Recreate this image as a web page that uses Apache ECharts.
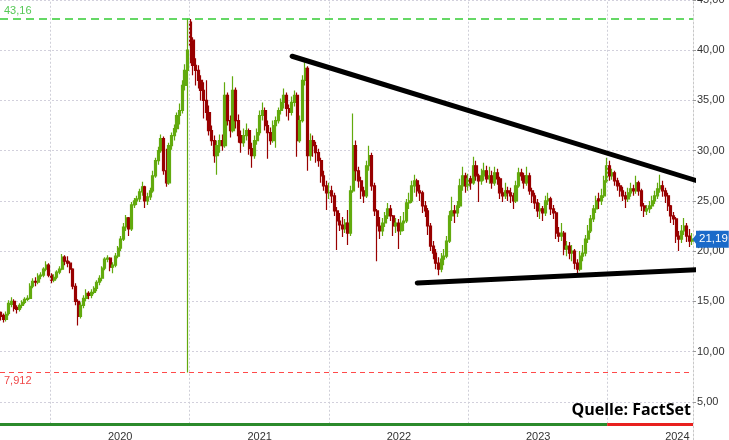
<!DOCTYPE html>
<html><head><meta charset="utf-8">
<script src="https://cdn.jsdelivr.net/npm/echarts@6/dist/echarts.min.js"></script>
<style>html,body{margin:0;padding:0;background:#fff}#c{width:729px;height:440px}</style>
</head><body><div id="c"></div>
<script>
// weekly bars, first bar date and step
const firstBar = [2019, 1, 15];
const open = [
13.5,13.9,13.6,13.2,13.8,14.7,15.0,14.4,14.2,14.6,
14.9,15.2,15.3,16.5,17.0,16.9,17.5,17.6,18.2,18.6,
17.6,17.1,17.4,17.9,18.2,19.4,19.0,18.8,18.2,16.5,
15.0,13.5,14.6,15.3,15.8,15.6,15.9,16.3,16.9,17.3,
18.3,19.2,19.3,18.4,18.6,19.5,20.3,21.2,22.4,23.3,
22.2,24.6,25.0,25.2,25.9,26.4,25.0,25.4,26.0,27.5,
29.0,30.0,31.2,28.0,26.8,30.5,31.5,32.2,33.5,34.0,
36.5,38.0,42.8,41.0,38.5,38.0,37.0,36.0,35.0,33.8,
32.0,31.0,29.5,30.5,31.0,30.5,35.5,33.0,32.0,36.0,
33.0,31.5,30.8,31.5,32.0,30.2,29.5,31.0,31.8,33.5,
34.0,32.5,31.8,31.0,32.5,33.0,34.0,34.8,35.5,34.2,
33.8,34.8,35.5,31.0,33.0,37.0,38.2,29.5,31.0,30.5,
29.8,29.0,27.5,26.5,25.8,26.0,25.5,24.0,23.0,22.6,
22.2,22.8,21.8,26.0,30.5,28.0,27.0,26.0,25.5,28.5,
29.5,26.5,24.0,22.5,22.0,22.8,23.5,24.2,23.5,22.5,
22.8,22.0,22.8,23.0,24.8,25.0,26.5,27.0,26.0,25.8,
24.5,24.0,22.5,20.5,19.8,18.8,18.2,19.2,19.5,21.0,
23.5,24.0,23.8,24.5,26.5,27.5,26.5,27.2,26.8,28.5,
27.5,27.0,27.5,28.0,27.2,27.5,26.8,27.8,27.2,25.8,
25.5,26.0,25.8,25.5,25.0,26.5,27.8,27.5,26.8,27.5,
26.0,25.5,24.8,24.0,24.2,23.8,25.0,25.2,24.2,23.8,
21.8,21.5,21.8,20.2,20.5,19.8,20.0,18.8,18.2,19.5,
19.8,21.2,22.0,23.2,24.2,25.2,25.0,25.5,27.0,28.5,
27.5,27.8,27.0,26.5,26.0,25.5,25.2,25.8,26.2,26.0,
26.8,26.0,24.5,24.0,24.2,24.5,25.0,25.5,26.2,26.5,
26.0,25.5,24.5,23.5,23.2,21.5,21.2,22.0,22.5,21.5,
21.0];
const close = [
13.8,13.5,13.2,13.7,14.8,15.0,14.3,14.2,14.6,14.9,
15.2,15.3,16.5,17.0,16.9,17.5,17.6,18.2,18.6,17.6,
17.1,17.4,17.9,18.2,19.4,19.0,18.8,18.2,16.5,15.0,
13.5,14.6,15.3,15.8,15.6,15.9,16.3,16.9,17.3,18.3,
19.2,19.3,18.4,18.6,19.5,20.3,21.2,22.4,23.3,22.2,
24.6,25.0,25.2,25.9,26.4,25.0,25.4,26.0,27.5,29.0,
30.0,31.2,28.0,26.8,30.5,31.5,32.2,33.5,34.0,36.5,
38.0,40.0,40.5,38.5,38.0,37.0,36.0,35.0,33.8,32.0,
31.0,29.5,30.5,31.0,30.5,35.5,33.0,32.0,36.0,33.0,
31.5,30.8,31.5,32.0,30.2,29.5,31.0,31.8,33.5,34.0,
32.5,31.8,31.0,32.5,33.0,34.0,34.8,35.5,34.2,33.8,
34.8,35.5,31.0,33.0,37.0,38.2,29.5,31.0,30.5,29.8,
29.0,27.5,26.5,25.8,26.0,25.5,24.0,23.0,22.6,22.2,
22.8,21.8,26.0,30.5,28.0,27.0,26.0,25.5,28.5,29.5,
26.5,24.0,22.5,22.0,22.8,23.5,24.2,23.5,22.5,22.8,
22.0,22.8,23.0,24.8,25.0,26.5,27.0,26.0,25.8,24.5,
24.0,22.5,20.5,19.8,18.8,18.2,19.2,19.5,21.0,23.5,
24.0,23.8,24.5,26.5,27.5,26.5,27.2,26.8,28.5,27.5,
27.0,27.5,28.0,27.2,27.5,26.8,27.8,27.2,25.8,25.5,
26.0,25.8,25.5,25.0,26.5,27.8,27.5,26.8,27.5,26.0,
25.5,24.8,24.0,24.2,23.8,25.0,25.2,24.2,23.8,21.8,
21.5,21.8,20.2,20.5,19.8,20.0,18.8,18.2,19.5,19.8,
21.2,22.0,23.2,24.2,25.0,25.0,25.5,27.0,28.5,27.5,
27.8,27.0,26.5,26.0,25.5,25.2,25.8,26.2,26.0,26.8,
26.0,24.5,24.0,24.2,24.5,25.0,25.5,26.2,26.5,26.0,
25.5,24.5,23.5,23.2,21.5,21.2,22.0,22.5,21.5,21.0,
21.19];
const low = [
13.2,13.1,12.9,13.0,13.6,14.4,14.0,13.8,14.0,14.3,
14.7,15.0,15.2,16.3,16.5,16.7,17.2,17.4,18.0,17.4,
16.8,16.9,17.2,17.7,18.1,18.6,18.4,17.8,16.2,14.6,
12.6,13.3,14.3,15.0,15.2,15.3,15.7,16.0,16.6,17.0,
18.1,18.9,18.0,17.8,18.4,19.3,20.0,21.0,22.0,21.5,
22.0,24.3,24.6,24.9,25.5,24.3,24.6,25.1,25.8,27.3,
28.6,29.8,27.6,26.4,26.6,30.1,31.0,31.8,32.6,33.7,
36.0,7.912,38.7,37.5,36.5,36.2,35.0,33.2,33.0,31.5,
30.5,28.8,27.6,29.8,30.0,30.3,32.5,31.3,31.8,32.2,
30.8,29.8,30.4,31.0,29.6,28.3,29.2,30.6,31.5,33.0,
32.0,29.2,30.6,30.8,30.3,32.7,33.6,34.2,33.4,33.0,
33.5,34.4,29.4,30.8,32.8,36.5,28.0,29.0,29.4,28.8,
28.4,26.8,26.0,24.1,25.2,24.8,23.5,20.1,22.0,21.4,
21.8,20.6,21.5,25.8,27.0,26.3,25.2,24.8,25.3,28.0,
26.0,23.5,19.0,21.2,21.5,22.4,23.2,23.0,21.5,21.8,
20.2,21.6,22.0,22.8,24.2,24.8,25.8,25.4,25.0,23.8,
23.4,21.6,20.0,19.2,18.2,17.6,17.9,18.6,19.3,20.8,
23.0,22.8,23.4,24.3,26.0,25.8,26.0,26.1,26.6,27.0,
24.9,26.6,27.0,26.8,26.7,26.2,26.5,26.6,25.2,24.9,
25.2,25.0,24.8,24.2,24.8,26.3,27.0,26.2,26.5,25.6,
24.8,24.2,23.4,23.2,23.0,23.5,24.6,23.6,23.2,21.2,
20.9,21.0,19.6,19.5,19.2,19.0,18.2,17.8,18.0,19.0,
19.5,20.8,21.8,22.9,23.8,24.2,24.6,25.3,26.8,27.0,
27.1,26.5,26.0,25.4,25.0,24.3,24.9,25.4,25.5,25.7,
25.5,24.0,23.4,23.6,23.8,24.2,24.7,25.2,25.8,25.4,
24.8,24.0,22.8,22.6,20.8,20.0,20.8,21.6,20.9,20.4,
20.6];
const high = [
14.2,14.0,13.8,14.0,15.1,15.4,15.2,14.6,14.8,15.1,
15.4,15.6,16.8,17.3,17.4,17.8,17.9,18.4,19.0,18.8,
17.8,17.7,18.1,18.5,19.7,19.6,19.5,19.0,18.3,16.8,
15.2,14.9,15.6,16.2,16.0,16.2,16.5,17.1,17.6,18.5,
19.4,19.6,19.4,18.9,19.8,20.5,21.5,22.8,23.6,23.4,
24.9,25.3,25.5,26.2,26.9,26.5,25.8,26.3,28.0,29.3,
30.4,31.6,31.4,30.2,30.8,31.8,32.6,33.8,34.7,37.0,
38.6,43.16,43.1,41.3,39.2,38.5,37.5,36.8,37.0,34.5,
32.5,31.5,31.0,31.6,31.6,36.8,35.8,33.5,37.4,36.3,
33.6,32.0,32.2,32.7,32.2,30.8,31.5,32.2,34.0,34.8,
34.3,33.0,32.3,33.0,33.4,34.3,35.2,36.2,35.8,34.6,
35.4,36.0,35.8,33.5,37.5,38.8,38.4,31.7,31.5,30.9,
30.2,29.3,28.0,27.0,26.8,26.5,25.8,24.4,23.8,23.4,
23.2,24.1,26.5,33.7,31.0,28.4,27.4,26.4,29.0,30.5,
29.8,26.8,24.2,23.4,23.3,23.9,24.8,24.6,23.6,23.3,
23.2,23.5,23.9,25.2,25.8,27.0,27.6,27.2,26.6,26.0,
25.0,24.3,22.8,21.0,20.2,19.4,19.8,20.2,21.5,24.0,
25.4,24.6,25.0,27.2,28.4,27.8,27.7,27.5,29.4,29.0,
27.7,28.2,28.8,28.5,28.4,28.0,28.4,28.2,27.4,26.3,
26.8,26.4,26.3,25.8,27.0,28.3,28.2,27.8,28.4,27.8,
26.3,25.8,25.2,24.8,24.5,25.5,25.8,25.4,24.6,24.0,
22.4,22.8,22.0,21.0,20.9,20.6,20.2,19.2,20.0,20.6,
21.6,22.6,23.6,24.6,25.5,25.8,26.2,27.5,29.3,29.0,
28.2,28.0,27.3,26.8,26.4,25.9,26.3,26.8,26.6,27.5,
27.0,26.2,24.8,24.6,25.0,25.5,26.0,26.8,27.6,27.0,
26.3,25.8,24.6,23.9,23.4,22.0,22.6,23.3,22.8,22.2,
21.8];
const periodHigh = 43.16;
const periodLow = 7.912;
const lastPrice = 21.19;
const upperTrend = [[[2021,2,27], 39.4], [[2024,1,24], 26.97]];
const lowerTrend = [[[2022,1,18], 16.83], [[2024,3,3], 18.22]];
const gridDates = [[2019,6,1],[2020,6,1],[2021,6,1],[2022,6,1],[2023,6,1]];
const axisMin = [2019,1,20], axisMax = [2024,1,11];
const bottomSplit = [2023,6,1];
const bottomValue = 2.81;

const ts = a => new Date(a[0], a[1], a[2]).getTime();
const fmt = (v, d) => v.toFixed(d).replace('.', ',');
const candles = open.map((o, i) => [new Date(firstBar[0], firstBar[1], firstBar[2] + 7 * i).getTime(), o, close[i], low[i], high[i]]);
const tMin = ts(axisMin), tMax = ts(axisMax);

const chart = echarts.init(document.getElementById('c'), null, {renderer: 'canvas'});
const FONT = 'Liberation Sans, Arial, sans-serif';
chart.setOption({
  animation: false,
  backgroundColor: '#fff',
  grid: {left: 0, right: 36, top: 0, bottom: -12, containLabel: false, outerBoundsMode: 'none'},
  xAxis: {
    type: 'time', min: tMin, max: tMax, offset: -28,
    minInterval: 360 * 864e5, maxInterval: 367 * 864e5,
    axisLine: {show: false}, axisTick: {show: false}, splitLine: {show: false},
    axisLabel: {margin: 7, color: '#333', fontSize: 11, fontFamily: FONT,
      formatter: v => String(new Date(v).getFullYear())}
  },
  yAxis: {
    type: 'value', position: 'right', min: 0, max: 45, interval: 5,
    axisLine: {show: true, lineStyle: {color: '#c8c8c8', type: [2, 2]}},
    axisTick: {show: true, length: 3, lineStyle: {color: '#999'}},
    axisLabel: {margin: 4, color: '#333', fontSize: 11, fontFamily: FONT, formatter: v => fmt(v, 2)},
    splitLine: {lineStyle: {color: '#d2d0dc', type: [2, 2]}}
  },
  series: [
    {
      type: 'candlestick', data: candles, encode: {x: 0, y: [1, 2, 3, 4]},
      barWidth: 2.6,
      itemStyle: {color: '#62aa0e', color0: '#980000', borderColor: '#62aa0e', borderColor0: '#980000', borderWidth: 1.2},
      z: 3
    },
    {
      type: 'line', data: [], clip: false, silent: true, z: 2,
      markLine: {
        silent: true, symbol: 'none', animation: false,
        data: [
          ...gridDates.map(d => [
            {coord: [ts(d), bottomValue], lineStyle: {color: '#cfcfd8', type: [2, 2], width: 1}, label: {show: false}},
            {coord: [ts(d), 45]}
          ]),
          {yAxis: periodHigh, lineStyle: {color: '#33cc33', type: [8, 5], width: 1.5},
            label: {show: true, position: 'insideStartTop', formatter: fmt(periodHigh, 2), color: '#55c855', fontSize: 11, fontFamily: FONT, distance: [4, 2]}},
          {yAxis: periodLow, lineStyle: {color: '#ff4a4a', type: [5, 4], width: 1},
            label: {show: true, position: 'insideStartBottom', formatter: String(periodLow).replace('.', ','), color: '#f04848', fontSize: 11, fontFamily: FONT, distance: [4, 3]}},
          [
            {coord: [tMin, bottomValue], lineStyle: {color: '#2b8a2b', width: 3, type: 'solid'}, label: {show: false}},
            {coord: [ts(bottomSplit), bottomValue]}
          ],
          [
            {coord: [ts(bottomSplit), bottomValue], lineStyle: {color: '#e8201e', width: 3, type: 'solid'}, label: {show: false}},
            {coord: [tMax, bottomValue]}
          ],
          {yAxis: lastPrice, lineStyle: {color: 'rgba(0,0,0,0)', width: 0},
            label: {show: true, position: 'end', formatter: fmt(lastPrice, 2), color: '#fff', backgroundColor: '#1b6ac9',
              padding: [3, 1, 2, 3], fontSize: 11.5, fontFamily: FONT, distance: 3}}
        ]
      },
      markPoint: {
        silent: true, animation: false,
        data: [{coord: [tMax, lastPrice], symbol: 'triangle', symbolRotate: 90, symbolSize: [18, 7], symbolOffset: [3, 0],
          itemStyle: {color: '#1b6ac9'}, label: {show: false}}]
      }
    },
    {
      type: 'line', clip: false, silent: true, symbol: 'none', z: 5,
      data: upperTrend.map(p => [ts(p[0]), p[1]]),
      lineStyle: {color: '#000', width: 5, cap: 'round'}
    },
    {
      type: 'line', clip: false, silent: true, symbol: 'none', z: 5,
      data: lowerTrend.map(p => [ts(p[0]), p[1]]),
      lineStyle: {color: '#000', width: 5, cap: 'round'}
    }
  ],
  graphic: [{
    type: 'text', right: 38, top: 402, z: 100,
    style: {text: 'Quelle: FactSet', font: 'bold 16px "Open Sans", sans-serif', fill: '#000'}
  }]
});
</script>
</body></html>
